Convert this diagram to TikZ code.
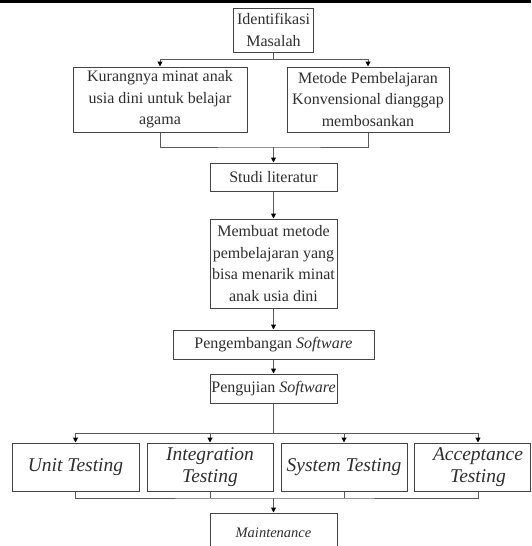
\documentclass[tikz,border=0pt]{standalone}
\usepackage{fontspec}
\setmainfont{Liberation Serif}
\usetikzlibrary{arrows.meta}
\definecolor{boxgray}{HTML}{444444}
\definecolor{linegray}{HTML}{5A5A5A}
\definecolor{txtgray}{HTML}{2E2E2E}
\begin{document}
\begin{tikzpicture}[x=1pt,y=-1pt,
  box/.style={draw=boxgray,line width=1pt,inner sep=0pt,align=center,text=txtgray,
    font=\fontsize{16}{21.5}\selectfont},
  bigbox/.style={box,font=\fontsize{19.5}{22}\selectfont\itshape},
  bigtext/.style={inner sep=0pt,align=center,text=txtgray,font=\fontsize{19.5}{22}\selectfont\itshape},
  conn/.style={draw=linegray,line width=1pt},
  arr/.style={conn,-{Triangle[length=5pt,width=5pt,color=black]}}]
\useasboundingbox (0,0) rectangle (531,546);
\clip (0,0) rectangle (531,546);
\fill[black] (0,0) rectangle (531,3);

\node[box,minimum width=80pt,minimum height=44pt] (id) at (273.5,30) {Identifikasi\\Masalah};
\node[box,minimum width=174pt,minimum height=65pt] (kur) at (160,99.5) {Kurangnya minat anak\\usia dini untuk belajar\\agama};
\node[box,minimum width=162pt,minimum height=65pt] (met) at (368,99.5) {Metode Pembelajaran\\Konvensional dianggap\\membosankan};
\node[box,minimum width=127pt,minimum height=28pt] (stu) at (273.5,177) {Studi literatur};
\node[box,minimum width=127pt,minimum height=89pt] (mem) at (273.5,263.5) {Membuat metode\\pembelajaran yang\\bisa menarik minat\\anak usia dini};
\node[box,minimum width=201pt,minimum height=29pt] (pen) at (273.5,344.5) {Pengembangan \textit{Software}};
\node[box,minimum width=127pt,minimum height=29pt] (uji) at (273.5,388.5) {Pengujian \textit{Software}};

\node[bigbox,minimum width=127pt,minimum height=48pt] (unit) at (75.5,467) {Unit Testing};
\node[bigbox,minimum width=126pt,minimum height=48pt] (integ) at (210,467) {Integration\\Testing};
\node[bigbox,minimum width=126pt,minimum height=48pt] (sys) at (344,467) {System Testing};
\node[box,minimum width=116pt,minimum height=48pt] (acc) at (472.5,467) {};
\node[bigtext] (acct) at (478,467) {Acceptance\\Testing};
\node[box,minimum width=127pt,minimum height=40pt,font=\fontsize{14.5}{17}\selectfont\itshape] (mai) at (273.5,533) {Maintenance};

\coordinate (j1) at (273.5,59);
\coordinate (j2) at (273.5,147);
\coordinate (j3) at (273.5,433);
\coordinate (j4) at (273.5,498);

\draw[conn] (id.south) -- (j1);
\draw[arr] (j1) -| (kur.north);
\draw[arr] (j1) -| (met.north);
\draw[conn] (kur.south) |- (j2) -| (met.south);
\draw[arr] (j2) -- (stu.north);
\draw[arr] (stu.south) -- (mem.north);
\draw[arr] (mem.south) -- (pen.north);
\draw[arr] (pen.south) -- (uji.north);
\draw[conn] (uji.south) -- (j3);
\draw[arr] (j3) -| (unit.north);
\draw[arr] (j3) -| (integ.north);
\draw[arr] (j3) -| (sys.north);
\draw[arr] (j3) -| (acct.north |- acc.north);
\draw[conn] (unit.south) |- (j4) -| (acct.south |- acc.south);
\draw[conn] (integ.south) -- (integ.south |- j4);
\draw[conn] (sys.south) -- (sys.south |- j4);
\draw[arr] (j4) -- (mai.north);
\end{tikzpicture}
\end{document}
